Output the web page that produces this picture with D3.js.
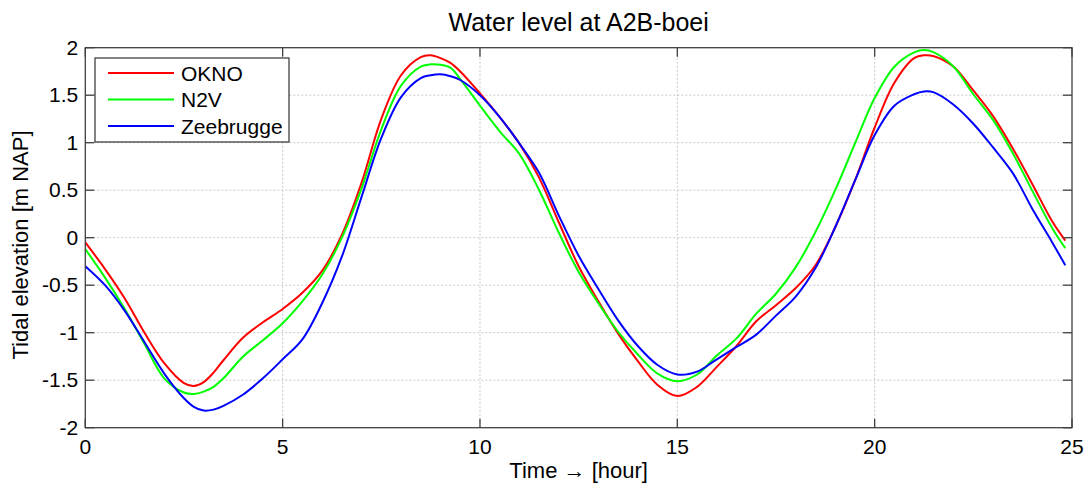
<!DOCTYPE html>
<html>
<head>
<meta charset="utf-8">
<script src="https://cdn.jsdelivr.net/npm/d3@7"></script>
<style>
  body { margin: 0; background: #fff; }
  svg text { font-family: "Liberation Sans", Arial, sans-serif; fill: #000; }
  .grid line { stroke: #c8c8c8; stroke-dasharray: 2,2; stroke-width: 1; }
  .frame { fill: none; stroke: #404040; stroke-width: 1.3; }
  .tick-mark { stroke: #404040; stroke-width: 1.3; }
</style>
</head>
<body>
<div id="chart"></div>
<script>
// time axis (hours)
var hours = [0, 0.5, 1, 1.5, 2, 2.5, 2.75, 3, 3.25, 3.5, 4, 4.5, 5, 5.5, 6, 6.5, 7, 7.5, 8, 8.5,
  8.75, 9, 9.25, 9.5, 10, 10.5, 11, 11.5, 12, 12.5, 13, 13.5, 14, 14.5, 15, 15.5, 16, 16.5, 17, 17.5,
  18, 18.5, 19, 19.5, 20, 20.5, 21, 21.25, 21.5, 22, 22.5, 23, 23.5, 24, 24.5, 24.83];

var okno = [-0.05, -0.33, -0.64, -1.00, -1.32, -1.53, -1.56, -1.52, -1.42, -1.29, -1.05, -0.89, -0.75, -0.58, -0.35, 0.03, 0.58, 1.25, 1.71, 1.90,
  1.92, 1.89, 1.84, 1.75, 1.52, 1.27, 0.99, 0.63, 0.16, -0.30, -0.67, -1.01, -1.30, -1.55, -1.667, -1.57, -1.36, -1.14, -0.88, -0.71,
  -0.53, -0.29, 0.11, 0.60, 1.16, 1.63, 1.89, 1.92, 1.91, 1.80, 1.55, 1.28, 0.94, 0.56, 0.17, -0.03];

var n2v = [-0.12, -0.42, -0.75, -1.12, -1.48, -1.63, -1.645, -1.62, -1.57, -1.48, -1.25, -1.08, -0.90, -0.67, -0.39, 0.00, 0.52, 1.14, 1.60, 1.80,
  1.825, 1.82, 1.79, 1.67, 1.39, 1.12, 0.88, 0.50, 0.05, -0.36, -0.69, -0.99, -1.23, -1.43, -1.51, -1.44, -1.24, -1.06, -0.80, -0.59,
  -0.31, 0.06, 0.50, 0.99, 1.47, 1.80, 1.95, 1.975, 1.95, 1.80, 1.51, 1.24, 0.89, 0.49, 0.10, -0.11];

var zeebrugge = [-0.30, -0.50, -0.77, -1.10, -1.43, -1.69, -1.78, -1.82, -1.81, -1.77, -1.65, -1.48, -1.28, -1.07, -0.69, -0.20, 0.43, 1.05, 1.48, 1.68,
  1.71, 1.72, 1.70, 1.66, 1.50, 1.27, 0.99, 0.68, 0.23, -0.19, -0.54, -0.87, -1.14, -1.34, -1.44, -1.41, -1.28, -1.15, -1.02, -0.82,
  -0.62, -0.32, 0.11, 0.60, 1.08, 1.39, 1.51, 1.54, 1.53, 1.40, 1.20, 0.95, 0.68, 0.30, -0.05, -0.29];

var seriesNames = ["OKNO", "N2V", "Zeebrugge"];
var seriesColors = ["#ff0000", "#00ff00", "#0000ff"];
var xTicks = [0, 5, 10, 15, 20, 25];
var yTicks = [-2, -1.5, -1, -0.5, 0, 0.5, 1, 1.5, 2];

var width = 1088, height = 483;
var margin = { left: 85.3, right: 16, top: 47.7, bottom: 55.3 };

var svg = d3.select("#chart").append("svg")
    .attr("width", width)
    .attr("height", height);

var x = d3.scaleLinear().domain([0, 25]).range([margin.left, width - margin.right]);
var y = d3.scaleLinear().domain([-2, 2]).range([height - margin.bottom, margin.top]);

// grid
var grid = svg.append("g").attr("class", "grid");
grid.selectAll(".gx").data(xTicks.slice(1, -1)).enter().append("line")
    .attr("x1", d => x(d)).attr("x2", d => x(d))
    .attr("y1", y(-2)).attr("y2", y(2));
grid.selectAll(".gy").data(yTicks.slice(1, -1)).enter().append("line")
    .attr("x1", x(0)).attr("x2", x(25))
    .attr("y1", d => y(d)).attr("y2", d => y(d));

// lines
var series = [okno, n2v, zeebrugge];
var line = d3.line()
    .x(function(d) { return x(d[0]); })
    .y(function(d) { return y(d[1]); })
    .curve(d3.curveCatmullRom.alpha(0.5));
series.forEach(function(vals, i) {
    var pts = hours.map(function(h, j) { return [h, vals[j]]; });
    svg.append("path")
        .datum(pts)
        .attr("fill", "none")
        .attr("stroke", seriesColors[i])
        .attr("stroke-width", 2)
        .attr("d", line);
});

// frame + inward ticks on all sides
svg.append("rect").attr("class", "frame")
    .attr("x", x(0)).attr("y", y(2))
    .attr("width", x(25) - x(0)).attr("height", y(-2) - y(2));
var tl = 9;
xTicks.forEach(function(t) {
    svg.append("line").attr("class", "tick-mark")
        .attr("x1", x(t)).attr("x2", x(t)).attr("y1", y(-2)).attr("y2", y(-2) - tl);
    svg.append("line").attr("class", "tick-mark")
        .attr("x1", x(t)).attr("x2", x(t)).attr("y1", y(2)).attr("y2", y(2) + tl);
});
yTicks.forEach(function(t) {
    svg.append("line").attr("class", "tick-mark")
        .attr("x1", x(0)).attr("x2", x(0) + tl).attr("y1", y(t)).attr("y2", y(t));
    svg.append("line").attr("class", "tick-mark")
        .attr("x1", x(25)).attr("x2", x(25) - tl).attr("y1", y(t)).attr("y2", y(t));
});

// tick labels
svg.selectAll(".xl").data(xTicks).enter().append("text")
    .attr("x", d => x(d)).attr("y", y(-2) + 26)
    .attr("text-anchor", "middle")
    .style("font-size", "21px")
    .text(d => d);
svg.selectAll(".yl").data(yTicks).enter().append("text")
    .attr("x", x(0) - 7).attr("y", d => y(d) + 7)
    .attr("text-anchor", "end")
    .style("font-size", "21px")
    .text(d => d);

// titles
svg.append("text")
    .attr("x", (x(0) + x(25)) / 2).attr("y", 31)
    .attr("text-anchor", "middle")
    .style("font-size", "25px")
    .text("Water level at A2B-boei");
svg.append("text")
    .attr("x", (x(0) + x(25)) / 2).attr("y", 478)
    .attr("text-anchor", "middle")
    .style("font-size", "22px")
    .text("Time \u2192 [hour]");
svg.append("text")
    .attr("transform", "translate(28,245) rotate(-90)")
    .attr("text-anchor", "middle")
    .style("font-size", "22px")
    .text("Tidal elevation [m NAP]");

// legend
var legend = svg.append("g").attr("transform", "translate(95,58)");
legend.append("rect")
    .attr("width", 194).attr("height", 84)
    .attr("fill", "#fff").attr("stroke", "#404040").attr("stroke-width", 1.3);
seriesNames.forEach(function(name, i) {
    var ly = 15 + i * 26.5;
    legend.append("line")
        .attr("x1", 13).attr("x2", 79).attr("y1", ly).attr("y2", ly)
        .attr("stroke", seriesColors[i]).attr("stroke-width", 2);
    legend.append("text")
        .attr("x", 86).attr("y", ly + 7.5)
        .style("font-size", "21px")
        .text(name);
});
</script>
</body>
</html>
